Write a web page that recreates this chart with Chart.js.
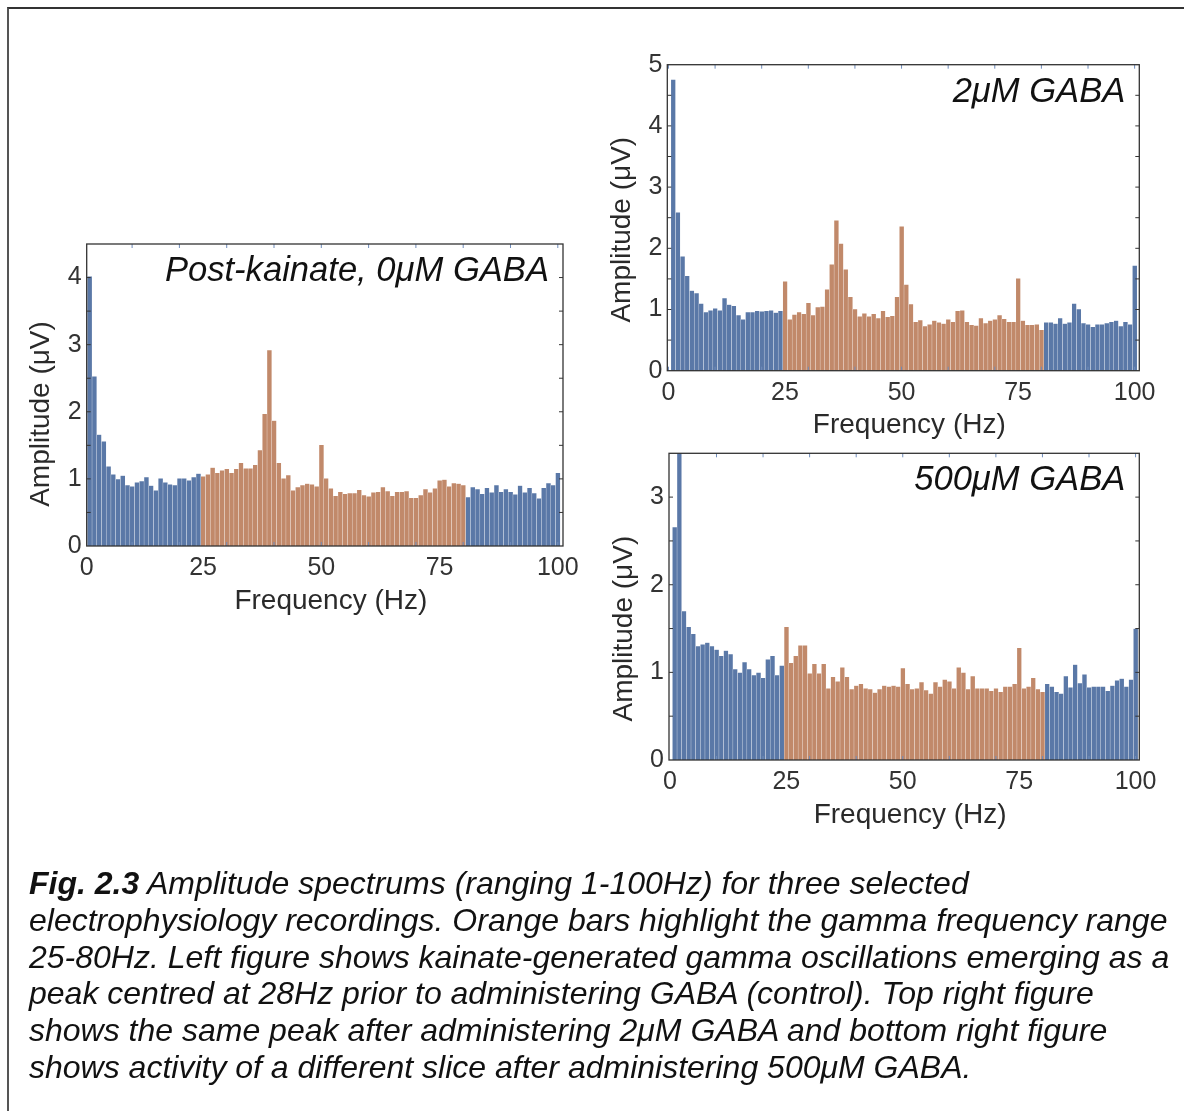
<!DOCTYPE html>
<html>
<head>
<meta charset="utf-8">
<script src="https://cdn.jsdelivr.net/npm/chart.js"></script>
<style>
  body { margin: 0; background: #fff; width: 1184px; height: 1111px; overflow: hidden; position: relative; font-family: "Liberation Sans", Arial, sans-serif; }
  .box { position: absolute; left: 7px; top: 7px; width: 1300px; height: 1300px; border-top: 2px solid #333; border-left: 2px solid #555; }
  canvas { position: absolute; left: 0; top: 0; }
  #caption { position: absolute; left: 29px; top: 865px; font-style: italic; font-size: 32px; line-height: 36.8px; color: #111; white-space: nowrap; }
  #caption b { font-weight: bold; }
</style>
</head>
<body>
<div class="box"></div>
<canvas id="c0" width="1184" height="1111"></canvas>
<canvas id="c2" width="1184" height="1111"></canvas>
<canvas id="c500" width="1184" height="1111"></canvas>
<div id="caption"><b>Fig. 2.3</b> Amplitude spectrums (ranging 1-100Hz) for three selected<br>electrophysiology recordings. Orange bars highlight the gamma frequency range<br>25-80Hz. Left figure shows kainate-generated gamma oscillations emerging as a<br>peak centred at 28Hz prior to administering GABA (control). Top right figure<br>shows the same peak after administering 2μM GABA and bottom right figure<br>shows activity of a different slice after administering 500μM GABA.</div>
<script>
// frequency bins (Hz)
const freq = [1,2,3,4,5,6,7,8,9,10,11,12,13,14,15,16,17,18,19,20,
  21,22,23,24,25,26,27,28,29,30,31,32,33,34,35,36,37,38,39,40,
  41,42,43,44,45,46,47,48,49,50,51,52,53,54,55,56,57,58,59,60,
  61,62,63,64,65,66,67,68,69,70,71,72,73,74,75,76,77,78,79,80,
  81,82,83,84,85,86,87,88,89,90,91,92,93,94,95,96,97,98,99,100];

// amplitude (uV), post-kainate 0uM GABA
const amp0 = [4.02,2.53,1.66,1.56,1.19,1.07,1.00,1.05,0.91,0.89,0.95,0.97,1.03,0.90,0.83,1.01,0.95,0.92,0.91,1.01,1.01,0.98,1.03,1.08,
  1.04,1.07,1.17,1.09,1.13,1.15,1.09,1.15,1.24,1.16,1.16,1.21,1.43,1.97,2.92,1.87,1.24,1.01,1.06,0.83,0.88,0.91,0.93,0.92,0.89,1.51,
  1.01,0.86,0.75,0.81,0.78,0.79,0.79,0.84,0.76,0.74,0.80,0.81,0.88,0.82,0.75,0.81,0.81,0.82,0.72,0.72,0.76,0.85,0.80,0.86,0.98,0.99,0.89,0.94,0.93,0.91,
  0.73,0.88,0.85,0.78,0.87,0.80,0.91,0.81,0.85,0.81,0.77,0.90,0.80,0.87,0.79,0.71,0.87,0.94,0.91,1.09];

// 2uM GABA
const amp2 = [4.76,2.59,1.87,1.55,1.31,1.27,1.10,0.96,0.99,1.02,0.99,1.19,1.08,1.06,0.91,0.84,0.96,0.96,0.98,0.97,0.98,0.99,0.95,0.98,
  1.46,0.84,0.92,0.96,0.93,1.11,0.91,1.04,1.05,1.33,1.74,2.46,2.08,1.66,1.21,1.01,0.89,0.94,0.89,0.93,0.86,0.98,0.88,0.90,1.21,
  2.36,1.41,1.09,0.80,0.83,0.73,0.76,0.82,0.79,0.77,0.84,0.80,0.98,0.99,0.80,0.75,0.74,0.86,0.78,0.82,0.84,0.91,0.85,0.80,0.80,1.51,0.82,0.75,0.75,0.76,0.67,
  0.79,0.79,0.77,0.86,0.77,0.79,1.10,1.01,0.78,0.76,0.72,0.76,0.76,0.78,0.80,0.82,0.73,0.80,0.76,1.72];

// 500uM GABA
const amp500 = [2.66,3.90,1.70,1.52,1.44,1.30,1.32,1.34,1.30,1.26,1.19,1.25,1.21,1.04,1.00,1.12,1.04,0.97,1.00,0.94,1.15,1.19,0.97,1.08,
  1.52,1.11,1.19,1.31,1.31,0.99,1.10,0.99,1.10,0.82,0.95,0.90,1.06,0.95,0.81,0.85,0.87,0.82,0.81,0.77,0.81,0.85,0.84,0.85,0.84,1.05,
  0.87,0.81,0.82,0.89,0.80,0.76,0.89,0.84,0.92,0.90,0.82,1.06,1.00,0.81,0.96,0.82,0.82,0.82,0.79,0.82,0.78,0.84,0.84,0.87,1.28,0.82,0.84,0.94,0.81,0.78,
  0.87,0.84,0.78,0.76,0.96,0.83,1.09,0.88,0.98,0.83,0.84,0.84,0.84,0.79,0.85,0.91,0.93,0.84,0.92,1.50];

const gammaRange = [25, 80];
const xTickLabels = [0, 25, 50, 75, 100];
const xMinorTicks = [0, 10, 20, 30, 40, 50, 60, 70, 80, 90, 100];

const BLUE = '#5a78a7';
const ORANGE = '#c1896a';

// draws the Mathematica-style frame, inward ticks and in-plot texts
const framePlugin = {
  id: 'frame',
  afterDatasetsDraw(chart, args, opts) {
    const ctx = chart.ctx;
    const a = chart.chartArea;
    const x = chart.scales.x, y = chart.scales.y;
    const seg = (x1, y1, x2, y2) => { ctx.beginPath(); ctx.moveTo(x1, y1); ctx.lineTo(x2, y2); ctx.stroke(); };
    ctx.save();
    ctx.lineWidth = 1;
    ctx.strokeStyle = '#6f8cbb';
    xMinorTicks.forEach(v => {
      const px = x.getPixelForValue(v);
      if (px < a.left + 1 || px > a.right - 1) return;
      seg(px, a.bottom, px, a.bottom - 4);
      seg(px, a.top, px, a.top + 4);
    });
    ctx.strokeStyle = '#333';
    opts.yMinor.forEach(v => {
      const py = y.getPixelForValue(v);
      if (py < a.top + 1 || py > a.bottom - 1) return;
      seg(a.left, py, a.left + 4, py);
      seg(a.right, py, a.right - 4, py);
    });
    ctx.lineWidth = 1.3;
    ctx.strokeStyle = '#333';
    ctx.strokeRect(a.left, a.top, a.right - a.left, a.bottom - a.top);

    ctx.fillStyle = '#2a2a2a';
    ctx.font = '28px "Liberation Sans", Arial';
    ctx.textAlign = 'center';
    ctx.textBaseline = 'middle';
    ctx.fillText('Frequency (Hz)', (a.left + a.right) / 2 + 6, a.bottom + 55);
    ctx.save();
    ctx.translate(a.left - 45, (a.top + a.bottom) / 2 + opts.yTitleShift);
    ctx.rotate(-Math.PI / 2);
    ctx.fillText('Amplitude (μV)', 0, 0);
    ctx.restore();

    ctx.fillStyle = '#111';
    ctx.font = 'italic 34.6px "Liberation Sans", Arial';
    ctx.textAlign = 'right';
    ctx.textBaseline = 'alphabetic';
    ctx.fillText(opts.title, a.right - 14, a.top + 37);
    ctx.restore();
  }
};

function makeChart(id, values, frame, xMin, xMax, yMax, yLabels, yMinor, title, yTitleShift) {
  const colors = freq.map(f => (f >= gammaRange[0] && f <= gammaRange[1]) ? ORANGE : BLUE);
  new Chart(document.getElementById(id), {
    type: 'bar',
    data: {
      datasets: [{
        data: freq.map((f, i) => ({ x: f, y: values[i] })),
        backgroundColor: colors,
        borderColor: 'rgba(255,255,255,0.22)',
        borderWidth: { left: 0.6, top: 0.6, right: 0, bottom: 0 },
        borderSkipped: false,
        barPercentage: 1,
        categoryPercentage: 1
      }]
    },
    options: {
      responsive: false,
      animation: false,
      layout: { padding: { left: frame.L - 70, top: frame.T, right: 1184 - frame.R, bottom: 1111 - frame.B - 70 } },
      plugins: {
        legend: { display: false },
        tooltip: { enabled: false },
        frame: { title: title, yMinor: yMinor, yTitleShift: yTitleShift }
      },
      scales: {
        x: {
          type: 'linear',
          min: xMin, max: xMax,
          offset: false,
          grid: { display: false, drawTicks: false },
          border: { display: false },
          afterBuildTicks: s => { s.ticks = xTickLabels.map(v => ({ value: Math.max(v, s.min) })); },
          afterFit: s => { s.height = 70; },
          ticks: {
            autoSkip: false, maxRotation: 0, padding: 7,
            color: '#333',
            font: { family: '"Liberation Sans", Arial', size: 25 },
            callback: (v, i) => String(xTickLabels[i])
          }
        },
        y: {
          min: 0, max: yMax,
          grid: { display: false, drawTicks: false },
          border: { display: false },
          afterBuildTicks: s => { s.ticks = yLabels.map(v => ({ value: v })); },
          afterFit: s => { s.width = 70; },
          ticks: {
            padding: 5,
            color: '#333',
            font: { family: '"Liberation Sans", Arial', size: 25 },
            callback: v => String(v)
          }
        }
      }
    },
    plugins: [framePlugin]
  });
}

makeChart('c0', amp0, { L: 86.7, T: 244, R: 563, B: 546 }, 0.4, 101.1, 4.5,
  [0, 1, 2, 3, 4], [0.5, 1, 1.5, 2, 2.5, 3, 3.5, 4], 'Post-kainate, 0μM GABA', 19);
makeChart('c2', amp2, { L: 667.3, T: 64.7, R: 1139.3, B: 370.7 }, -0.25, 101, 5,
  [0, 1, 2, 3, 4, 5], [0.5, 1, 1.5, 2, 2.5, 3, 3.5, 4, 4.5], '2μM GABA', 12);
makeChart('c500', amp500, { L: 669, T: 453.3, R: 1139.3, B: 760 }, -0.2, 100.8, 3.5,
  [0, 1, 2, 3], [0.5, 1, 1.5, 2, 2.5, 3], '500μM GABA', 22);
</script>
</body>
</html>
